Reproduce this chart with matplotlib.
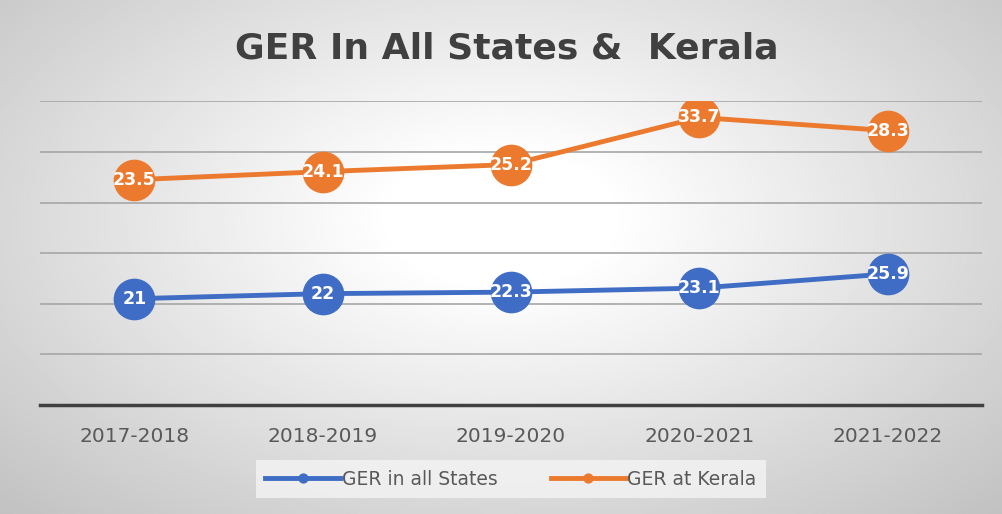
""" GER line chart: all states vs Kerala (stacked line, Excel style). """
import numpy as np
import matplotlib.pyplot as plt

years = ["2017-2018", "2018-2019", "2019-2020", "2020-2021", "2021-2022"]
ger_all_states = [21, 22, 22.3, 23.1, 25.9]
ger_kerala = [23.5, 24.1, 25.2, 33.7, 28.3]

BLUE = "#3f6cc4"
ORANGE = "#ec7a2e"

fig = plt.figure(figsize=(10.02, 5.14), dpi=100)

# background: light centre fading to grey edges
bg = fig.add_axes([0, 0, 1, 1], zorder=-10)
xx, yy = np.meshgrid(np.linspace(-1, 1, 400), np.linspace(-1, 1, 200))
dist = np.sqrt((xx * 0.9) ** 2 + ((yy + 0.15) * 0.8) ** 2)
shade = 1.0 - 0.2 * np.clip(dist - 0.2, 0, None) / 0.9
bg.imshow(shade, cmap="gray", vmin=0, vmax=1, aspect="auto",
          extent=[0, 1, 0, 1])
bg.set_axis_off()

ax = fig.add_axes([0.04, 0.212, 0.94, 0.591])
ax.set_facecolor("none")

x = np.arange(len(years))
# stacked line: Kerala is drawn on top of all states
stack_top = np.array(ger_all_states) + np.array(ger_kerala)

ax.plot(x, ger_all_states, "-o", color=BLUE, linewidth=3.5,
        markersize=29, label="GER in all States", zorder=3)
ax.plot(x, stack_top, "-o", color=ORANGE, linewidth=3.5,
        markersize=29, label="GER at Kerala", zorder=3)

for xi, v in zip(x, ger_all_states):
    ax.text(xi, v, f"{v:g}", color="white", fontsize=12.5, fontweight="bold",
            ha="center", va="center", zorder=4)
for xi, v, top in zip(x, ger_kerala, stack_top):
    ax.text(xi, top, f"{v:g}", color="white", fontsize=12.5, fontweight="bold",
            ha="center", va="center", zorder=4)

ax.set_xlim(-0.5, len(years) - 0.5)
ax.set_ylim(0, 60)
ax.set_yticks(np.arange(10, 61, 10))
ax.yaxis.grid(True, color="#a6a6a6", linewidth=1.2)
ax.set_axisbelow(True)
ax.tick_params(axis="y", left=False, labelleft=False)
ax.set_xticks(x, years)
ax.tick_params(axis="x", bottom=False, labelsize=14.5, labelcolor="#595959",
               pad=12)
for side in ["top", "right", "left"]:
    ax.spines[side].set_visible(False)
ax.spines["bottom"].set_color("#404040")
ax.spines["bottom"].set_linewidth(2.5)

fig.text(0.506, 0.905, "GER In All States &  Kerala", fontsize=26,
         fontweight="bold", color="#404040", ha="center", va="center")

leg = fig.legend(loc="center", bbox_to_anchor=(0.51, 0.068), ncol=2,
                 frameon=True, fontsize=13.5, markerscale=0.22,
                 handlelength=4.0, columnspacing=2.8, handletextpad=0.1,
                 borderpad=0.5, fancybox=False)
leg.get_frame().set_facecolor("#f4f4f4")
leg.get_frame().set_edgecolor("none")
leg.get_frame().set_alpha(0.8)
for t in leg.get_texts():
    t.set_color("#595959")

fig.savefig("out.png", dpi=100)
